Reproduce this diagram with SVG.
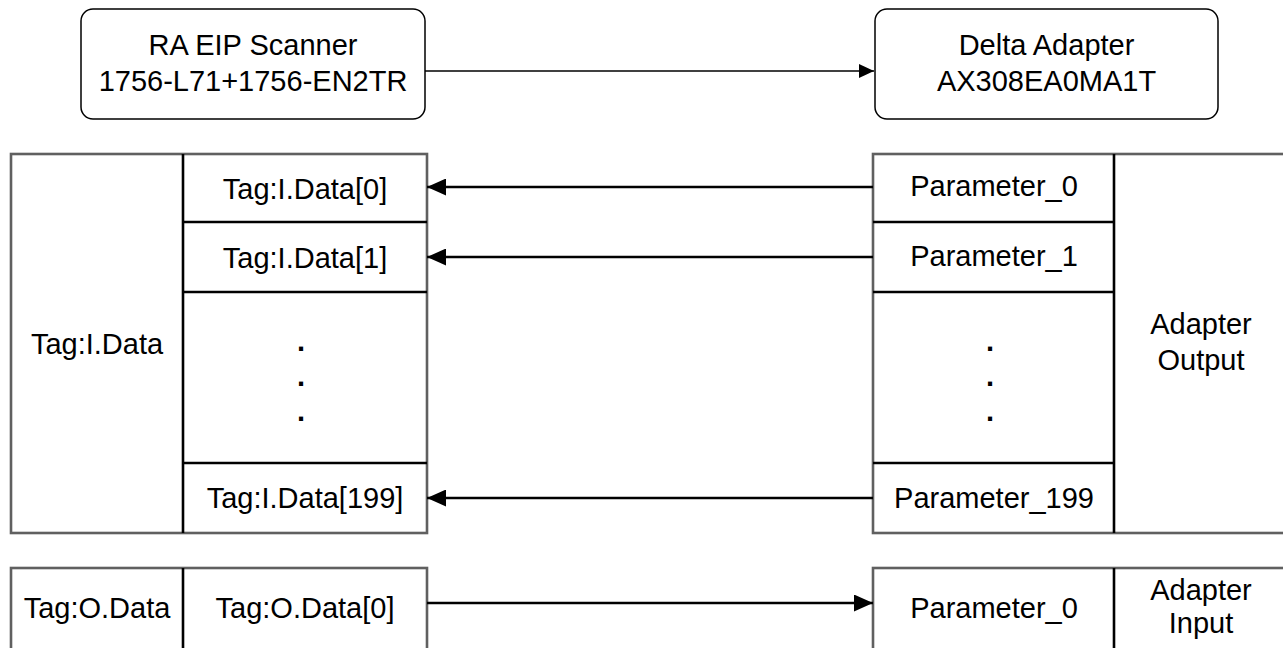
<svg xmlns="http://www.w3.org/2000/svg" width="1283" height="648" viewBox="0 0 1283 648">
<style>
text{font-family:"Liberation Sans",Arial,sans-serif;font-size:29px;fill:#000;text-anchor:middle}
.dot{font-weight:bold}
.box{fill:#fff;stroke:#000;stroke-width:1.5}
.outer{fill:#fff;stroke:#606060;stroke-width:2.6}
.div{stroke:#000;stroke-width:2.6;fill:none}
.conn{stroke:#000;stroke-width:2.4;fill:none}
.thin{stroke:#000;stroke-width:1.3;fill:none}
</style>
<defs>
<marker id="ah" markerUnits="userSpaceOnUse" markerWidth="19" markerHeight="17" refX="19" refY="8.5" orient="auto"><path d="M0,0 L19,8.5 L0,17 z" fill="#000"/></marker>
<marker id="ahs" markerUnits="userSpaceOnUse" markerWidth="15" markerHeight="14" refX="15" refY="7" orient="auto"><path d="M0,0 L15,7 L0,14 z" fill="#000"/></marker>
</defs>
<g id="scanner">
<rect class="box" x="81" y="9" width="344" height="110" rx="12"/>
<text x="253" y="55">RA EIP Scanner</text>
<text x="253" y="91">1756-L71+1756-EN2TR</text>
</g>
<g id="adapter">
<rect class="box" x="875" y="9" width="343" height="110" rx="12"/>
<text x="1046.5" y="55">Delta Adapter</text>
<text x="1046.5" y="91">AX308EA0MA1T</text>
</g>
<g id="input-table">
<rect class="outer" x="11" y="154" width="416" height="379"/>
<line class="div" x1="183" y1="154" x2="183" y2="533"/>
<line class="div" x1="183" y1="222" x2="427" y2="222"/>
<line class="div" x1="183" y1="292" x2="427" y2="292"/>
<line class="div" x1="183" y1="463" x2="427" y2="463"/>
<text x="97" y="354">Tag:I.Data</text>
<text x="305" y="199">Tag:I.Data[0]</text>
<text x="305" y="268">Tag:I.Data[1]</text>
<text class="dot" x="301" y="351">.</text>
<text class="dot" x="301" y="386">.</text>
<text class="dot" x="301" y="421">.</text>
<text x="305" y="508">Tag:I.Data[199]</text>
</g>
<g id="adapter-output">
<rect class="outer" x="873" y="154" width="440" height="379"/>
<line class="div" x1="1114" y1="154" x2="1114" y2="533"/>
<line class="div" x1="873" y1="222" x2="1115" y2="222"/>
<line class="div" x1="873" y1="292" x2="1115" y2="292"/>
<line class="div" x1="873" y1="463" x2="1115" y2="463"/>
<text x="994" y="196">Parameter_0</text>
<text x="994" y="266">Parameter_1</text>
<text class="dot" x="990" y="351">.</text>
<text class="dot" x="990" y="386">.</text>
<text class="dot" x="990" y="421">.</text>
<text x="994" y="508">Parameter_199</text>
<text x="1201" y="334">Adapter</text>
<text x="1201" y="370">Output</text>
</g>
<g id="output-table">
<rect class="outer" x="11" y="568" width="416" height="100"/>
<line class="div" x1="183" y1="568" x2="183" y2="668"/>
<text x="97" y="618">Tag:O.Data</text>
<text x="305" y="618">Tag:O.Data[0]</text>
</g>
<g id="adapter-input">
<rect class="outer" x="873" y="568" width="440" height="100"/>
<line class="div" x1="1114" y1="568" x2="1114" y2="668"/>
<text x="994" y="618">Parameter_0</text>
<text x="1201" y="600">Adapter</text>
<text x="1201" y="633">Input</text>
</g>
<g id="connectors">
<line class="thin" x1="425" y1="71" x2="874" y2="71" marker-end="url(#ahs)"/>
<line class="conn" x1="873" y1="187" x2="427" y2="187" marker-end="url(#ah)"/>
<line class="conn" x1="873" y1="257" x2="427" y2="257" marker-end="url(#ah)"/>
<line class="conn" x1="873" y1="498" x2="427" y2="498" marker-end="url(#ah)"/>
<line class="conn" x1="427" y1="603" x2="873" y2="603" marker-end="url(#ah)"/>
</g>
</svg>
